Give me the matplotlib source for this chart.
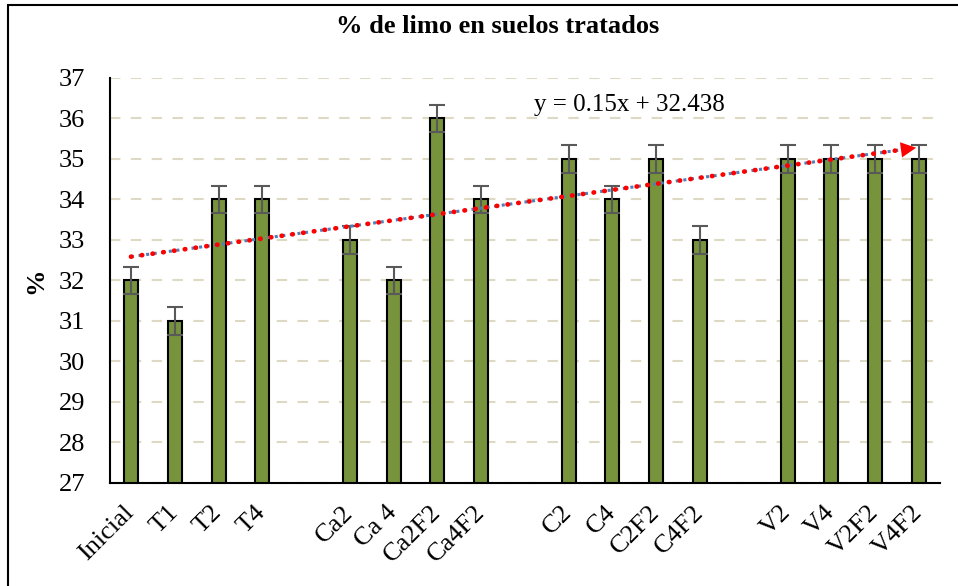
import numpy as np
import matplotlib.pyplot as plt
from matplotlib.patches import Rectangle

plt.rcParams['font.family'] = ['Liberation Serif', 'DejaVu Serif']

# datos (posiciones vacías = separadores entre grupos)
etiquetas = ['Inicial', 'T1', 'T2', 'T4', '',
             'Ca2', 'Ca 4', 'Ca2F2', 'Ca4F2', '',
             'C2', 'C4', 'C2F2', 'C4F2', '',
             'V2', 'V4', 'V2F2', 'V4F2']
limo = [32, 31, 34, 34, np.nan,
        33, 32, 36, 34, np.nan,
        35, 34, 35, 33, np.nan,
        35, 35, 35, 35]
error = [0.34, 0.34, 0.34, 0.34, np.nan,
         0.34, 0.34, 0.34, 0.34, np.nan,
         0.34, 0.34, 0.34, 0.34, np.nan,
         0.34, 0.34, 0.34, 0.34]
ecuacion = 'y = 0.15x + 32.438'

x = np.arange(1, len(etiquetas) + 1)
y = np.array(limo, dtype=float)
e = np.array(error, dtype=float)
ok = ~np.isnan(y)

fig = plt.figure(figsize=(9.58, 5.86), dpi=100)
ax = fig.add_axes([0.1148, 0.1758, 0.8663, 0.6911])

# marco exterior
fig.patches.append(Rectangle((8 / 958, -0.05), 1.2, 1 - 5 / 586 + 0.05,
                             transform=fig.transFigure, fill=False,
                             edgecolor='black', linewidth=1.5))

ax.bar(x[ok], y[ok] - 27, bottom=27, width=0.32, color='#77933C',
       edgecolor='black', linewidth=1.5, zorder=3)
ax.errorbar(x[ok], y[ok], yerr=e[ok], fmt='none', ecolor='#595959',
            elinewidth=1.5, capsize=6, capthick=1.5, zorder=4)

# línea de tendencia lineal
m, b = np.polyfit(x[ok], y[ok], 1)
xt = np.linspace(1, 18.6, 200)
ax.plot(xt, m * xt + b, color='#4F81BD', lw=2.2, ls=(0, (1, 1.5)), zorder=5)
ax.plot(xt, m * xt + b, color='red', lw=3.4, ls=(0, (0.1, 2.2)),
        dash_capstyle='round', zorder=6)
ax.annotate('', xy=(19.0, m * 19.0 + b), xytext=(18.5, m * 18.5 + b),
            arrowprops=dict(arrowstyle='-|>,head_length=1.1,head_width=0.55',
                            color='red', lw=0), zorder=7)
ax.text(10.2, 36.33, ecuacion, fontsize=18, va='center', ha='left')

ax.set_xlim(0.52, 19.48)
ax.set_ylim(27, 37)
ax.set_yticks(range(27, 38))
ax.set_xticks(x)
ax.set_xticklabels(etiquetas, rotation=45, ha='right', va='center',
                   rotation_mode='anchor', fontsize=19)
ax.tick_params(axis='x', length=0, pad=19)
ax.tick_params(axis='y', length=0, pad=18, labelsize=19)
ax.grid(axis='y', color='#DDD9C3', ls=(0, (5, 5)), lw=1.5, zorder=0)
ax.spines['top'].set_visible(False)
ax.spines['right'].set_visible(False)
ax.spines['left'].set_linewidth(1.5)
ax.spines['bottom'].set_linewidth(1.5)

ax.set_ylabel('%', fontsize=19, fontweight='bold', labelpad=8)
fig.text(0.519, 0.955, '% de limo en suelos tratados', fontsize=19,
         fontweight='bold', ha='center', va='center')

fig.savefig('out.png', dpi=100)
